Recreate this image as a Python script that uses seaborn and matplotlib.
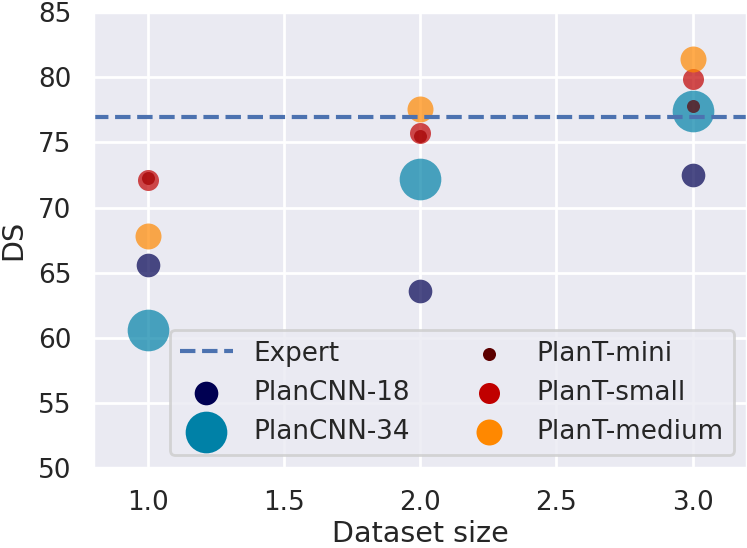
import matplotlib
matplotlib.use("Agg")
import matplotlib.pyplot as plt
import seaborn as sns

# values
dataset_size = [1.0, 2.0, 3.0]
expert_ds = 76.95
plancnn18 = [65.6, 63.6, 72.5]
plancnn34 = [60.6, 72.2, 77.4]
plant_mini = [72.3, 75.5, 77.8]
plant_small = [72.1, 75.7, 79.9]
plant_medium = [67.8, 77.6, 81.4]

model_names = ["PlanCNN-18", "PlanCNN-34", "PlanT-mini", "PlanT-small", "PlanT-medium"]
model_values = [plancnn18, plancnn34, plant_mini, plant_small, plant_medium]
model_colors = ["#000052", "#0081a7", "#5c0000", "#c00000", "#ff8800"]
model_sizes = [290, 900, 88, 229, 350]

sns.set_theme(context="poster", style="darkgrid", font_scale=0.86)

fig = plt.figure(figsize=(7.47, 5.48), dpi=100)
ax = fig.add_axes([0.1245, 0.1451, 0.8755, 0.833])

ax.axhline(expert_ds, ls="--", lw=3, color=sns.color_palette()[0], label="Expert")

for name, vals, col, sz in zip(model_names, model_values, model_colors, model_sizes):
    sns.scatterplot(x=dataset_size, y=vals, s=sz, color=col, alpha=0.7,
                    linewidth=0, label=name, ax=ax)

ax.set_xlim(0.8, 3.2)
ax.set_ylim(50, 85)
ax.set_yticks(range(50, 90, 5))
ax.set_xlabel("Dataset size", labelpad=3)
ax.set_ylabel("DS", labelpad=8)

leg = ax.legend(loc="lower right", ncol=2)
for h in leg.legend_handles:
    h.set_alpha(1)

fig.savefig("out.png", dpi=100)
